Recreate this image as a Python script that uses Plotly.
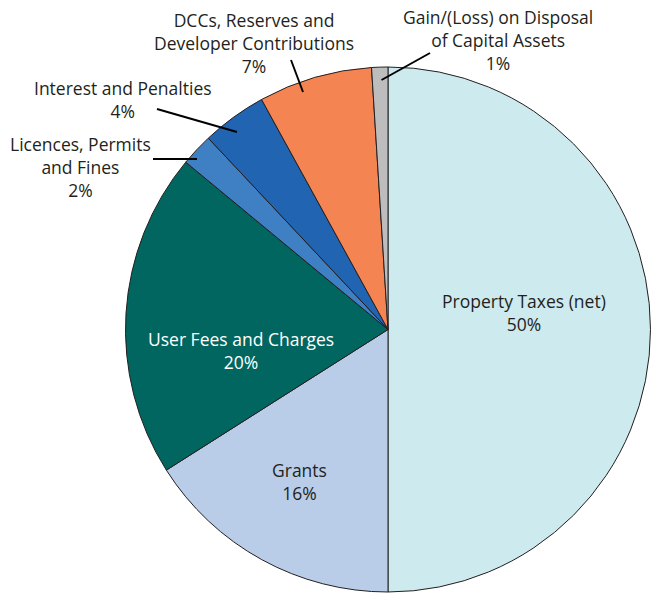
import plotly.graph_objects as go

# Revenue sources, percent of total
categories = [
    "Property Taxes (net)",
    "Grants",
    "User Fees and Charges",
    "Licences, Permits and Fines",
    "Interest and Penalties",
    "DCCs, Reserves and Developer Contributions",
    "Gain/(Loss) on Disposal of Capital Assets",
]
values = [50, 16, 20, 2, 4, 7, 1]
colors = ["#cdeaee", "#b9cde9", "#00665f", "#3f7fc3", "#2064b2", "#f58453", "#bdbdbd"]

# display text for each slice label
label_text = [
    "Property Taxes (net)",
    "Grants",
    "User Fees and Charges",
    "Licences, Permits<br>and Fines",
    "Interest and Penalties",
    "DCCs, Reserves and<br>Developer Contributions",
    "Gain/(Loss) on Disposal<br>of Capital Assets",
]

W, H = 652, 594
CX, CY, R = 388.0, 329.5, 262.5  # pie centre and radius, px

dom_x = [(CX - R) / W, (CX + R) / W]
dom_y = [(H - (CY + R)) / H, (H - (CY - R)) / H]

fig = go.Figure(
    go.Pie(
        labels=categories,
        values=values,
        marker=dict(colors=colors, line=dict(color="#231f20", width=1)),
        sort=False,
        direction="clockwise",
        rotation=0,
        textinfo="none",
        hoverinfo="label+percent",
        domain=dict(x=dom_x, y=dom_y),
        showlegend=False,
    )
)


def pxpt(px, py):
    return px / W, 1 - py / H


FONT = "Open Sans, Lato, sans-serif"
DARK = "#231f20"

# label centre (px) and text colour for each slice
label_pos = [
    ((524, 312.5), DARK),
    ((299, 481), DARK),
    ((240.5, 350), "white"),
    ((80, 167), DARK),
    ((123, 99.5), DARK),
    ((254, 43.5), DARK),
    ((498, 40), DARK),
]

# leader lines for the small slices: point inside the slice -> point near its label
leaders = {
    3: ((197, 159), (153, 159)),
    4: ((237, 132), (157, 109)),
    5: ((303, 92), (291, 60)),
    6: ((381.5, 80), (430, 53)),
}

annotations = []
for i, ((lx, ly), col) in enumerate(label_pos):
    x, y = pxpt(lx, ly)
    annotations.append(dict(
        x=x, y=y, xref="paper", yref="paper",
        text=f"{label_text[i]}<br>{values[i]}%",
        showarrow=False, font=dict(family=FONT, size=17.5, color=col),
        xanchor="center", yanchor="middle", align="center",
    ))

shapes = []
for i, ((sx, sy), (ex, ey)) in leaders.items():
    x0, y0 = pxpt(sx, sy)
    x1, y1 = pxpt(ex, ey)
    shapes.append(dict(
        type="line", xref="paper", yref="paper",
        x0=x0, y0=y0, x1=x1, y1=y1,
        line=dict(color="black", width=2),
    ))

fig.update_layout(
    width=W, height=H,
    margin=dict(l=0, r=0, t=0, b=0),
    paper_bgcolor="white",
    plot_bgcolor="white",
    annotations=annotations,
    shapes=shapes,
)

fig.write_html("out.html")
